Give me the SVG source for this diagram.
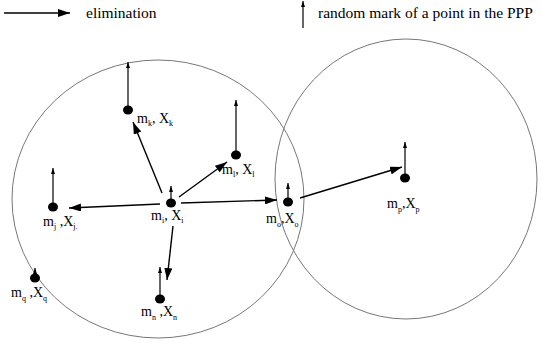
<svg xmlns="http://www.w3.org/2000/svg" width="541" height="347" viewBox="0 0 541 347">
<style>
text{font-family:'Liberation Serif','Times New Roman',serif;fill:#000}
.lg{font-size:15.5px}
.lb{font-size:14px}
.sb{font-size:8px}
.el{stroke:#000;stroke-width:1.4;fill:none;marker-end:url(#ah)}
.mk{stroke:#000;stroke-width:1.2;fill:none;marker-end:url(#sm)}
.dot{fill:#000}
.reg{fill:none;stroke:#777;stroke-width:1}
</style>
<defs>
<marker id="ah" viewBox="0 0 12 8" refX="12" refY="4" markerWidth="12" markerHeight="8" markerUnits="userSpaceOnUse" orient="auto"><path d="M0,0 L12,4 L0,8 Z" fill="#000"/></marker>
<marker id="sm" viewBox="0 0 6 4" refX="6" refY="2" markerWidth="6" markerHeight="4" markerUnits="userSpaceOnUse" orient="auto"><path d="M0,0 L6,2 L0,4 Z" fill="#000"/></marker>
</defs>
<g font-family="Liberation Serif, Times New Roman, serif">
<g id="legend">
<line x1="4" y1="13" x2="70" y2="13" class="el"/>
<text class="lg" x="86" y="18">elimination</text>
<line x1="303" y1="28" x2="303" y2="1" class="mk"/>
<text class="lg" x="318" y="18">random mark of a point in the PPP</text>
</g>
<g id="regions">
<ellipse class="reg" cx="158" cy="199" rx="146" ry="139"/>
<ellipse class="reg" cx="406" cy="179" rx="131" ry="140"/>
</g>
<g id="connectors">
<line class="el" x1="162" y1="193" x2="133" y2="122"/>
<line class="el" x1="179" y1="197" x2="227" y2="162"/>
<line class="el" x1="160" y1="204" x2="69" y2="208"/>
<line class="el" x1="181" y1="203" x2="277" y2="200"/>
<line class="el" x1="173" y1="226" x2="167" y2="280"/>
<line class="el" x1="300" y1="198" x2="402" y2="167"/>
</g>
<g id="node-k">
<line class="mk" x1="128" y1="108" x2="128" y2="62"/>
<ellipse class="dot" cx="128" cy="110" rx="5" ry="4.5"/>
<text class="lb" x="137" y="123">m<tspan class="sb" dy="3">k</tspan><tspan dy="-3">, X</tspan><tspan class="sb" dy="3">k</tspan></text>
</g>
<g id="node-l">
<line class="mk" x1="236" y1="153" x2="236" y2="100"/>
<ellipse class="dot" cx="236" cy="155" rx="5" ry="4.5"/>
<text class="lb" x="222" y="174">m<tspan class="sb" dy="3">l</tspan><tspan dy="-3">, X</tspan><tspan class="sb" dy="3">l</tspan></text>
</g>
<g id="node-i">
<line class="mk" x1="171" y1="201" x2="171" y2="186"/>
<ellipse class="dot" cx="171" cy="203" rx="5" ry="4.5"/>
<text class="lb" x="151" y="220">m<tspan class="sb" dy="3">i</tspan><tspan dy="-3">, X</tspan><tspan class="sb" dy="3">i</tspan></text>
</g>
<g id="node-j">
<line class="mk" x1="53" y1="205" x2="53" y2="168"/>
<ellipse class="dot" cx="53" cy="207" rx="5" ry="4.5"/>
<text class="lb" x="43" y="226">m<tspan class="sb" dy="3">j</tspan><tspan dy="-3"> ,X</tspan><tspan class="sb" dy="3">j.</tspan></text>
</g>
<g id="node-o">
<line class="mk" x1="288" y1="200" x2="288" y2="183"/>
<ellipse class="dot" cx="288" cy="202" rx="5" ry="4.5"/>
<text class="lb" x="266" y="223">m<tspan class="sb" dy="4">o</tspan><tspan dy="-4">,X</tspan><tspan class="sb" dy="4">o</tspan></text>
</g>
<g id="node-p">
<line class="mk" x1="405" y1="176" x2="405" y2="142"/>
<ellipse class="dot" cx="405" cy="178" rx="5" ry="4.5"/>
<text class="lb" x="387" y="208">m<tspan class="sb" dy="4">p</tspan><tspan dy="-4">,X</tspan><tspan class="sb" dy="4">p</tspan></text>
</g>
<g id="node-q">
<line class="mk" x1="35" y1="276" x2="35" y2="268"/>
<ellipse class="dot" cx="35" cy="278" rx="5" ry="4.5"/>
<text class="lb" x="11" y="297">m<tspan class="sb" dy="4">q</tspan><tspan dy="-4"> ,X</tspan><tspan class="sb" dy="4">q</tspan></text>
</g>
<g id="node-n">
<line class="mk" x1="160" y1="296" x2="160" y2="267"/>
<ellipse class="dot" cx="160" cy="299" rx="5" ry="4.5"/>
<text class="lb" x="141" y="316">m<tspan class="sb" dy="4">n</tspan><tspan dy="-4"> ,X</tspan><tspan class="sb" dy="4">n</tspan></text>
</g>
</g>
</svg>
